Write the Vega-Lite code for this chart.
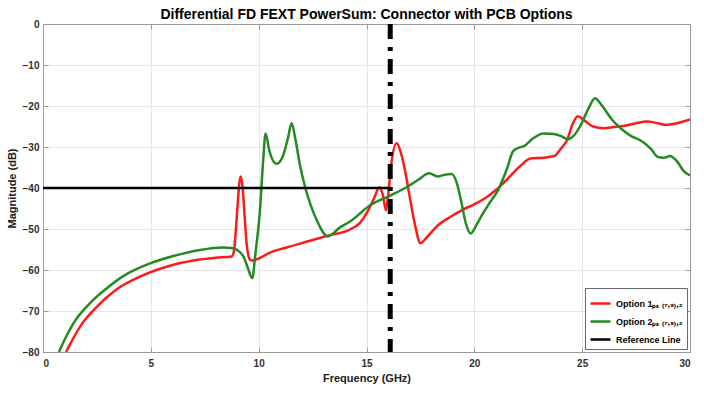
{
  "$schema": "https://vega.github.io/schema/vega-lite/v6.json",
  "width": 647,
  "height": 328,
  "autosize": {"type": "none"},
  "padding": {"left": 43, "top": 24, "right": 14, "bottom": 43},
  "background": "white",
  "title": {"text": "Differential FD FEXT PowerSum: Connector with PCB Options", "font": "Liberation Sans", "fontSize": 14, "fontWeight": "bold", "color": "#000000", "offset": -3, "anchor": "middle"},
  "config": {
    "font": "Liberation Sans",
    "view": {"stroke": "#9a9a9a", "strokeWidth": 1},
    "axis": {"domainColor": "#9a9a9a", "tickColor": "#9a9a9a", "gridColor": "#e6e6e6", "labelFont": "Liberation Sans", "labelFontSize": 10, "labelFontWeight": "bold", "labelColor": "#303030", "titleFont": "Liberation Sans", "titleFontSize": 11, "titleFontWeight": "bold", "titleColor": "#202020", "tickSize": -5}
  },
  "datasets": {
    "curves": [
      {"f": 1.07, "db": -80, "s": "Option 1"}, {"f": 1.72, "db": -73.8, "s": "Option 1"}, {"f": 2.49, "db": -69, "s": "Option 1"}, {"f": 3.42, "db": -64.7, "s": "Option 1"}, {"f": 4.5, "db": -61.6, "s": "Option 1"}, {"f": 5.73, "db": -59.2, "s": "Option 1"}, {"f": 6.97, "db": -57.7, "s": "Option 1"}, {"f": 8.0, "db": -57.0, "s": "Option 1"}, {"f": 8.75, "db": -56.7, "s": "Option 1"}, {"f": 8.85, "db": -55.5, "s": "Option 1"}, {"f": 9.0, "db": -46, "s": "Option 1"}, {"f": 9.1, "db": -39, "s": "Option 1"}, {"f": 9.17, "db": -37.2, "s": "Option 1"}, {"f": 9.25, "db": -39.5, "s": "Option 1"}, {"f": 9.35, "db": -47, "s": "Option 1"}, {"f": 9.45, "db": -54, "s": "Option 1"}, {"f": 9.6, "db": -57.5, "s": "Option 1"}, {"f": 9.7, "db": -57.7, "s": "Option 1"}, {"f": 10.0, "db": -57.2, "s": "Option 1"}, {"f": 10.5, "db": -55.8, "s": "Option 1"}, {"f": 11.3, "db": -54.5, "s": "Option 1"}, {"f": 12.3, "db": -53, "s": "Option 1"}, {"f": 13.3, "db": -51.5, "s": "Option 1"}, {"f": 14.2, "db": -50.2, "s": "Option 1"}, {"f": 14.7, "db": -48.5, "s": "Option 1"}, {"f": 15.0, "db": -46.2, "s": "Option 1"}, {"f": 15.35, "db": -42.5, "s": "Option 1"}, {"f": 15.6, "db": -39.8, "s": "Option 1"}, {"f": 15.75, "db": -41.5, "s": "Option 1"}, {"f": 15.9, "db": -45.4, "s": "Option 1"}, {"f": 16.0, "db": -42, "s": "Option 1"}, {"f": 16.15, "db": -34, "s": "Option 1"}, {"f": 16.4, "db": -29.1, "s": "Option 1"}, {"f": 16.6, "db": -31.5, "s": "Option 1"}, {"f": 16.85, "db": -37.5, "s": "Option 1"}, {"f": 17.0, "db": -42.1, "s": "Option 1"}, {"f": 17.25, "db": -49, "s": "Option 1"}, {"f": 17.5, "db": -53.5, "s": "Option 1"}, {"f": 17.8, "db": -52, "s": "Option 1"}, {"f": 18.25, "db": -49.4, "s": "Option 1"}, {"f": 18.9, "db": -47, "s": "Option 1"}, {"f": 19.5, "db": -45.2, "s": "Option 1"}, {"f": 19.95, "db": -44.1, "s": "Option 1"}, {"f": 20.5, "db": -42.5, "s": "Option 1"}, {"f": 21.0, "db": -40.5, "s": "Option 1"}, {"f": 21.5, "db": -38, "s": "Option 1"}, {"f": 22.1, "db": -34.8, "s": "Option 1"}, {"f": 22.6, "db": -32.8, "s": "Option 1"}, {"f": 23.2, "db": -32.6, "s": "Option 1"}, {"f": 23.7, "db": -32.2, "s": "Option 1"}, {"f": 24.0, "db": -30.5, "s": "Option 1"}, {"f": 24.3, "db": -28.3, "s": "Option 1"}, {"f": 24.55, "db": -24.5, "s": "Option 1"}, {"f": 24.8, "db": -22.5, "s": "Option 1"}, {"f": 25.1, "db": -23.5, "s": "Option 1"}, {"f": 25.5, "db": -25, "s": "Option 1"}, {"f": 26.0, "db": -25.4, "s": "Option 1"}, {"f": 26.5, "db": -25.1, "s": "Option 1"}, {"f": 26.9, "db": -24.9, "s": "Option 1"}, {"f": 27.5, "db": -24.2, "s": "Option 1"}, {"f": 28.0, "db": -23.8, "s": "Option 1"}, {"f": 28.5, "db": -24.2, "s": "Option 1"}, {"f": 28.9, "db": -24.6, "s": "Option 1"}, {"f": 29.4, "db": -24.2, "s": "Option 1"}, {"f": 30.0, "db": -23.3, "s": "Option 1"},
      {"f": 0.74, "db": -80, "s": "Option 2"}, {"f": 1.0, "db": -77, "s": "Option 2"}, {"f": 1.41, "db": -73, "s": "Option 2"}, {"f": 2.18, "db": -68.1, "s": "Option 2"}, {"f": 2.95, "db": -64.5, "s": "Option 2"}, {"f": 3.72, "db": -61.5, "s": "Option 2"}, {"f": 4.96, "db": -58.4, "s": "Option 2"}, {"f": 6.04, "db": -56.6, "s": "Option 2"}, {"f": 7.28, "db": -55.1, "s": "Option 2"}, {"f": 8.36, "db": -54.5, "s": "Option 2"}, {"f": 8.8, "db": -54.7, "s": "Option 2"}, {"f": 9.1, "db": -55.5, "s": "Option 2"}, {"f": 9.29, "db": -56.7, "s": "Option 2"}, {"f": 9.5, "db": -59.5, "s": "Option 2"}, {"f": 9.7, "db": -62.0, "s": "Option 2"}, {"f": 9.85, "db": -56, "s": "Option 2"}, {"f": 10.06, "db": -45.4, "s": "Option 2"}, {"f": 10.2, "db": -34, "s": "Option 2"}, {"f": 10.32, "db": -26.7, "s": "Option 2"}, {"f": 10.5, "db": -31, "s": "Option 2"}, {"f": 10.83, "db": -34.1, "s": "Option 2"}, {"f": 11.1, "db": -32.5, "s": "Option 2"}, {"f": 11.35, "db": -28, "s": "Option 2"}, {"f": 11.53, "db": -24.2, "s": "Option 2"}, {"f": 11.7, "db": -28, "s": "Option 2"}, {"f": 11.9, "db": -34, "s": "Option 2"}, {"f": 12.15, "db": -39.7, "s": "Option 2"}, {"f": 12.4, "db": -44, "s": "Option 2"}, {"f": 12.69, "db": -47.8, "s": "Option 2"}, {"f": 13.2, "db": -51.8, "s": "Option 2"}, {"f": 13.77, "db": -49.6, "s": "Option 2"}, {"f": 14.2, "db": -48.3, "s": "Option 2"}, {"f": 15.2, "db": -44.1, "s": "Option 2"}, {"f": 16.0, "db": -42.1, "s": "Option 2"}, {"f": 16.9, "db": -39.7, "s": "Option 2"}, {"f": 17.4, "db": -38, "s": "Option 2"}, {"f": 17.9, "db": -36.4, "s": "Option 2"}, {"f": 18.3, "db": -37.2, "s": "Option 2"}, {"f": 18.6, "db": -36.8, "s": "Option 2"}, {"f": 18.95, "db": -36.6, "s": "Option 2"}, {"f": 19.2, "db": -39, "s": "Option 2"}, {"f": 19.4, "db": -43.5, "s": "Option 2"}, {"f": 19.6, "db": -48.5, "s": "Option 2"}, {"f": 19.83, "db": -51.1, "s": "Option 2"}, {"f": 20.1, "db": -49, "s": "Option 2"}, {"f": 20.4, "db": -46.2, "s": "Option 2"}, {"f": 20.75, "db": -43.3, "s": "Option 2"}, {"f": 21.1, "db": -40.5, "s": "Option 2"}, {"f": 21.5, "db": -35.5, "s": "Option 2"}, {"f": 21.8, "db": -31, "s": "Option 2"}, {"f": 22.1, "db": -30.1, "s": "Option 2"}, {"f": 22.3, "db": -29.8, "s": "Option 2"}, {"f": 22.7, "db": -28, "s": "Option 2"}, {"f": 23.2, "db": -26.7, "s": "Option 2"}, {"f": 23.7, "db": -26.8, "s": "Option 2"}, {"f": 24.0, "db": -27.3, "s": "Option 2"}, {"f": 24.35, "db": -28.1, "s": "Option 2"}, {"f": 24.6, "db": -27.3, "s": "Option 2"}, {"f": 24.9, "db": -25.0, "s": "Option 2"}, {"f": 25.3, "db": -20.5, "s": "Option 2"}, {"f": 25.6, "db": -18.1, "s": "Option 2"}, {"f": 25.9, "db": -19.8, "s": "Option 2"}, {"f": 26.4, "db": -23.4, "s": "Option 2"}, {"f": 26.8, "db": -25.5, "s": "Option 2"}, {"f": 27.2, "db": -27.1, "s": "Option 2"}, {"f": 27.8, "db": -28.7, "s": "Option 2"}, {"f": 28.2, "db": -30.5, "s": "Option 2"}, {"f": 28.5, "db": -32.4, "s": "Option 2"}, {"f": 28.8, "db": -32.6, "s": "Option 2"}, {"f": 29.07, "db": -32.2, "s": "Option 2"}, {"f": 29.4, "db": -33.5, "s": "Option 2"}, {"f": 29.7, "db": -35.8, "s": "Option 2"}, {"f": 30.0, "db": -36.9, "s": "Option 2"},
      {"f": 0, "db": -40, "s": "Reference Line"}, {"f": 16.1, "db": -40, "s": "Reference Line"}
    ],
    "marker": [{"f": 16.1}]
  },
  "layer": [
    {
      "data": {"name": "curves"},
      "mark": {"type": "line", "interpolate": "monotone", "strokeWidth": 2.5, "clip": true},
      "encoding": {
        "x": {"field": "f", "type": "quantitative", "scale": {"domain": [0, 30], "nice": false}, "axis": {"orient": "bottom", "title": "Frequency (GHz)", "values": [0, 5, 10, 15, 20, 25, 30], "labelPadding": 11, "titlePadding": 4, "grid": true}},
        "y": {"field": "db", "type": "quantitative", "scale": {"domain": [-80, 0], "nice": false}, "axis": {"orient": "left", "title": "Magnitude (dB)", "values": [0, -10, -20, -30, -40, -50, -60, -70, -80], "labelPadding": 9, "titlePadding": 5, "grid": true}},
        "color": {"field": "s", "type": "nominal", "scale": {"domain": ["Option 1", "Option 2", "Reference Line"], "range": ["#ff1a1a", "#238b23", "#000000"]},
          "legend": {"title": null, "orient": "bottom-right", "offset": 3, "labelExpr": "datum.value == 'Reference Line' ? datum.value : datum.value + 'ₚₛ ₍₇,₉₎,₂'", "labelFont": "Liberation Sans", "labelFontSize": 9, "labelFontWeight": "bold", "labelColor": "#000000", "symbolType": "stroke", "symbolStrokeWidth": 2.5, "symbolSize": 400, "strokeColor": "#666666", "fillColor": "white", "padding": 4, "rowPadding": 1, "labelOffset": 4}}
      }
    },
    {
      "data": {"name": "marker"},
      "mark": {"type": "rule", "color": "#000000", "strokeWidth": 5, "strokeDash": [15, 8, 4, 8]},
      "encoding": {"x": {"field": "f", "type": "quantitative", "axis": null}}
    },
    {
      "data": {"name": "marker"},
      "mark": {"type": "point", "opacity": 0},
      "encoding": {
        "x": {"field": "f", "type": "quantitative", "axis": {"orient": "top", "title": null, "labels": false, "grid": false, "values": [0, 5, 10, 15, 20, 25, 30]}},
        "y": {"datum": -40, "type": "quantitative", "axis": {"orient": "right", "title": null, "labels": false, "grid": false, "values": [0, -10, -20, -30, -40, -50, -60, -70, -80]}}
      }
    }
  ],
  "resolve": {"axis": {"x": "independent", "y": "independent"}}
}
